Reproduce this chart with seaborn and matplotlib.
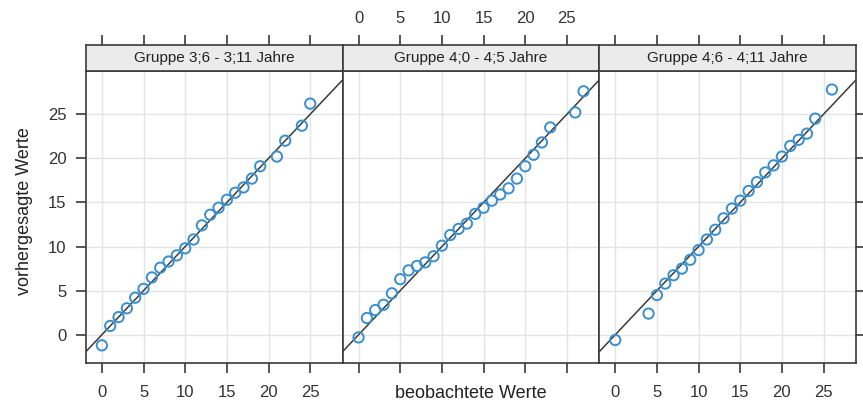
import matplotlib
matplotlib.use('Agg')
import matplotlib.pyplot as plt
import numpy as np
import pandas as pd
import seaborn as sns

# --- data ---
GROUPS = ['Gruppe 3;6 - 3;11 Jahre', 'Gruppe 4;0 - 4;5 Jahre', 'Gruppe 4;6 - 4;11 Jahre']

obs_g1 = [0, 1, 2, 3, 4, 5, 6, 7, 8, 9, 10, 11, 12, 13, 14, 15, 16, 17, 18, 19, 21, 22, 24, 25]
pred_g1 = [-1.2, 1.0, 2.0, 3.0, 4.2, 5.2, 6.5, 7.6, 8.3, 9.0, 9.8, 10.8, 12.4, 13.6, 14.4, 15.3,
           16.1, 16.7, 17.7, 19.1, 20.2, 22.0, 23.7, 26.2]

obs_g2 = [0, 1, 2, 3, 4, 5, 6, 7, 8, 9, 10, 11, 12, 13, 14, 15, 16, 17, 18, 19, 20, 21, 22, 23, 26, 27]
pred_g2 = [-0.3, 1.9, 2.8, 3.4, 4.7, 6.3, 7.3, 7.8, 8.2, 8.9, 10.1, 11.3, 12.0, 12.6, 13.7, 14.4,
           15.2, 15.9, 16.6, 17.7, 19.1, 20.4, 21.8, 23.5, 25.2, 27.6]

obs_g3 = [0, 4, 5, 6, 7, 8, 9, 10, 11, 12, 13, 14, 15, 16, 17, 18, 19, 20, 21, 22, 23, 24, 26]
pred_g3 = [-0.6, 2.4, 4.5, 5.8, 6.75, 7.5, 8.5, 9.6, 10.8, 11.9, 13.2, 14.3, 15.2, 16.3, 17.3,
           18.4, 19.2, 20.2, 21.4, 22.1, 22.8, 24.5, 27.8]

TICKS = [0, 5, 10, 15, 20, 25]

BLUE = '#3a8fcc'
DARK = '#3a3a3a'
GRID = '#e4e4e4'
STRIP = '#ebebeb'
LW = 1.2

df = pd.concat([
    pd.DataFrame({'gruppe': GROUPS[0], 'beob': obs_g1, 'vorh': pred_g1}),
    pd.DataFrame({'gruppe': GROUPS[1], 'beob': obs_g2, 'vorh': pred_g2}),
    pd.DataFrame({'gruppe': GROUPS[2], 'beob': obs_g3, 'vorh': pred_g3}),
])

sns.set_theme(style='ticks')
plt.rcParams['font.family'] = ['Liberation Sans', 'DejaVu Sans']
plt.rcParams['axes.edgecolor'] = DARK
plt.rcParams['axes.linewidth'] = LW

g = sns.FacetGrid(df, col='gruppe', col_order=GROUPS, height=4, aspect=0.7, despine=False)
g.map_dataframe(sns.scatterplot, x='beob', y='vorh', marker='o', color=BLUE,
                facecolors='none', edgecolor=BLUE, s=55, linewidth=1.4, zorder=3)
g.figure.set_size_inches(8.63, 4.01)
g.figure.subplots_adjust(left=0.0997, right=0.992, bottom=0.0948, top=0.823, wspace=0)

strip_h = 26 / 292
for i, (ax, title) in enumerate(zip(g.axes.flat, GROUPS)):
    ax.set_title('')
    ax.set_xlim(-1.9, 28.9)
    ax.set_ylim(-3.2, 29.9)
    ax.set_xticks(TICKS)
    ax.set_yticks(TICKS)
    ax.grid(True, color=GRID, lw=1.0, zorder=0)
    ax.set_axisbelow(True)
    ax.axline((0, 0), slope=1, color=DARK, lw=1.1, zorder=2)
    ax.tick_params(direction='out', length=7, width=LW, color=DARK, labelsize=12,
                   labelcolor='#333333', pad=7)
    ax.tick_params(axis='x', bottom=True, labelbottom=(i != 1), top=False, labeltop=False, pad=9)
    ax.tick_params(axis='y', left=(i == 0), labelleft=(i == 0),
                   right=(i == 2), labelright=False)
    ax.set_xlabel('')
    ax.set_ylabel('')

    # lattice-style strip as a separate axes, carrying the top ticks
    pos = ax.get_position()
    strip = g.figure.add_axes([pos.x0, pos.y1, pos.width, pos.height * strip_h])
    strip.set_facecolor(STRIP)
    strip.set_xlim(ax.get_xlim())
    strip.set_ylim(0, 1)
    strip.set_yticks([])
    strip.xaxis.set_ticks_position('top')
    strip.set_xticks(TICKS)
    strip.tick_params(axis='x', direction='out', length=7, width=LW, color=DARK,
                      labelsize=12, labelcolor='#333333', pad=7)
    if i != 1:
        strip.set_xticklabels([])
    for sp in strip.spines.values():
        sp.set_color(DARK)
        sp.set_linewidth(LW)
    strip.text(0.5, 0.5, title, transform=strip.transAxes, ha='center', va='center',
               fontsize=11, color='#222222')

g.axes.flat[1].set_xlabel('beobachtete Werte', fontsize=13, color='#222222')
g.axes.flat[1].xaxis.set_label_coords(0.5, -0.075)
g.axes.flat[0].set_ylabel('vorhergesagte Werte', fontsize=13, color='#222222')
g.axes.flat[0].yaxis.set_label_coords(-0.205, 0.52)

g.figure.savefig('out.png', dpi=100)
